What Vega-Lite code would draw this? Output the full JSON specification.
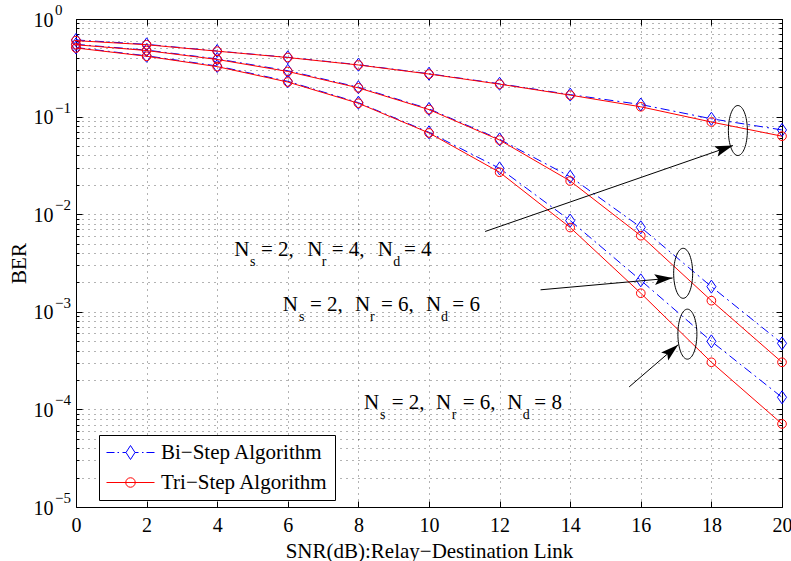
{
  "$schema": "https://vega.github.io/schema/vega-lite/v6.json",
  "width": 706,
  "height": 488,
  "autosize": {"type": "none"},
  "padding": {"left": 76, "top": 19, "right": 9, "bottom": 54},
  "background": "white",
  "config": {
    "view": {"stroke": null},
    "font": "Liberation Serif",
    "axis": {"labelFont": "Liberation Serif", "titleFont": "Liberation Serif", "labelColor": "black", "titleColor": "black", "titleFontWeight": "normal", "domainColor": "black", "tickColor": "black"}
  },
  "datasets": {
    "curves": [
      {"series": "Bi−Step Algorithm", "cfg": "A", "snr": 0, "ber": 0.61},
      {"series": "Bi−Step Algorithm", "cfg": "A", "snr": 2, "ber": 0.55},
      {"series": "Bi−Step Algorithm", "cfg": "A", "snr": 4, "ber": 0.47},
      {"series": "Bi−Step Algorithm", "cfg": "A", "snr": 6, "ber": 0.405},
      {"series": "Bi−Step Algorithm", "cfg": "A", "snr": 8, "ber": 0.34},
      {"series": "Bi−Step Algorithm", "cfg": "A", "snr": 10, "ber": 0.275},
      {"series": "Bi−Step Algorithm", "cfg": "A", "snr": 12, "ber": 0.217},
      {"series": "Bi−Step Algorithm", "cfg": "A", "snr": 14, "ber": 0.168},
      {"series": "Bi−Step Algorithm", "cfg": "A", "snr": 16, "ber": 0.133},
      {"series": "Bi−Step Algorithm", "cfg": "A", "snr": 18, "ber": 0.095},
      {"series": "Bi−Step Algorithm", "cfg": "A", "snr": 20, "ber": 0.073},
      {"series": "Bi−Step Algorithm", "cfg": "B", "snr": 0, "ber": 0.55},
      {"series": "Bi−Step Algorithm", "cfg": "B", "snr": 2, "ber": 0.48},
      {"series": "Bi−Step Algorithm", "cfg": "B", "snr": 4, "ber": 0.39},
      {"series": "Bi−Step Algorithm", "cfg": "B", "snr": 6, "ber": 0.295},
      {"series": "Bi−Step Algorithm", "cfg": "B", "snr": 8, "ber": 0.2},
      {"series": "Bi−Step Algorithm", "cfg": "B", "snr": 10, "ber": 0.12},
      {"series": "Bi−Step Algorithm", "cfg": "B", "snr": 12, "ber": 0.0585},
      {"series": "Bi−Step Algorithm", "cfg": "B", "snr": 14, "ber": 0.0242},
      {"series": "Bi−Step Algorithm", "cfg": "B", "snr": 16, "ber": 0.00734},
      {"series": "Bi−Step Algorithm", "cfg": "B", "snr": 18, "ber": 0.00181},
      {"series": "Bi−Step Algorithm", "cfg": "B", "snr": 20, "ber": 0.000475},
      {"series": "Bi−Step Algorithm", "cfg": "C", "snr": 0, "ber": 0.51},
      {"series": "Bi−Step Algorithm", "cfg": "C", "snr": 2, "ber": 0.42},
      {"series": "Bi−Step Algorithm", "cfg": "C", "snr": 4, "ber": 0.33},
      {"series": "Bi−Step Algorithm", "cfg": "C", "snr": 6, "ber": 0.23},
      {"series": "Bi−Step Algorithm", "cfg": "C", "snr": 8, "ber": 0.139},
      {"series": "Bi−Step Algorithm", "cfg": "C", "snr": 10, "ber": 0.069},
      {"series": "Bi−Step Algorithm", "cfg": "C", "snr": 12, "ber": 0.0295},
      {"series": "Bi−Step Algorithm", "cfg": "C", "snr": 14, "ber": 0.0086},
      {"series": "Bi−Step Algorithm", "cfg": "C", "snr": 16, "ber": 0.0021},
      {"series": "Bi−Step Algorithm", "cfg": "C", "snr": 18, "ber": 0.000498},
      {"series": "Bi−Step Algorithm", "cfg": "C", "snr": 20, "ber": 0.000133},
      {"series": "Tri−Step Algorithm", "cfg": "A", "snr": 0, "ber": 0.6},
      {"series": "Tri−Step Algorithm", "cfg": "A", "snr": 2, "ber": 0.545},
      {"series": "Tri−Step Algorithm", "cfg": "A", "snr": 4, "ber": 0.468},
      {"series": "Tri−Step Algorithm", "cfg": "A", "snr": 6, "ber": 0.403},
      {"series": "Tri−Step Algorithm", "cfg": "A", "snr": 8, "ber": 0.338},
      {"series": "Tri−Step Algorithm", "cfg": "A", "snr": 10, "ber": 0.273},
      {"series": "Tri−Step Algorithm", "cfg": "A", "snr": 12, "ber": 0.215},
      {"series": "Tri−Step Algorithm", "cfg": "A", "snr": 14, "ber": 0.166},
      {"series": "Tri−Step Algorithm", "cfg": "A", "snr": 16, "ber": 0.126},
      {"series": "Tri−Step Algorithm", "cfg": "A", "snr": 18, "ber": 0.088},
      {"series": "Tri−Step Algorithm", "cfg": "A", "snr": 20, "ber": 0.063},
      {"series": "Tri−Step Algorithm", "cfg": "B", "snr": 0, "ber": 0.545},
      {"series": "Tri−Step Algorithm", "cfg": "B", "snr": 2, "ber": 0.475},
      {"series": "Tri−Step Algorithm", "cfg": "B", "snr": 4, "ber": 0.385},
      {"series": "Tri−Step Algorithm", "cfg": "B", "snr": 6, "ber": 0.29},
      {"series": "Tri−Step Algorithm", "cfg": "B", "snr": 8, "ber": 0.197},
      {"series": "Tri−Step Algorithm", "cfg": "B", "snr": 10, "ber": 0.118},
      {"series": "Tri−Step Algorithm", "cfg": "B", "snr": 12, "ber": 0.0575},
      {"series": "Tri−Step Algorithm", "cfg": "B", "snr": 14, "ber": 0.0219},
      {"series": "Tri−Step Algorithm", "cfg": "B", "snr": 16, "ber": 0.00602},
      {"series": "Tri−Step Algorithm", "cfg": "B", "snr": 18, "ber": 0.0013},
      {"series": "Tri−Step Algorithm", "cfg": "B", "snr": 20, "ber": 0.000304},
      {"series": "Tri−Step Algorithm", "cfg": "C", "snr": 0, "ber": 0.505},
      {"series": "Tri−Step Algorithm", "cfg": "C", "snr": 2, "ber": 0.415},
      {"series": "Tri−Step Algorithm", "cfg": "C", "snr": 4, "ber": 0.325},
      {"series": "Tri−Step Algorithm", "cfg": "C", "snr": 6, "ber": 0.226},
      {"series": "Tri−Step Algorithm", "cfg": "C", "snr": 8, "ber": 0.137},
      {"series": "Tri−Step Algorithm", "cfg": "C", "snr": 10, "ber": 0.068},
      {"series": "Tri−Step Algorithm", "cfg": "C", "snr": 12, "ber": 0.0269},
      {"series": "Tri−Step Algorithm", "cfg": "C", "snr": 14, "ber": 0.0073},
      {"series": "Tri−Step Algorithm", "cfg": "C", "snr": 16, "ber": 0.00155},
      {"series": "Tri−Step Algorithm", "cfg": "C", "snr": 18, "ber": 0.000304},
      {"series": "Tri−Step Algorithm", "cfg": "C", "snr": 20, "ber": 0.000071}
    ],
    "ellipses": [
      {"snr": 18.75, "ber": 0.072},
      {"snr": 17.2, "ber": 0.00248},
      {"snr": 17.32, "ber": 0.00059}
    ],
    "arrows": [
      {"id": 1, "snr0": 11.59, "ber0": 0.00665, "snr": 18.61, "ber": 0.0505},
      {"id": 2, "snr0": 13.16, "ber0": 0.00168, "snr": 16.9, "ber": 0.00222},
      {"id": 3, "snr0": 15.67, "ber0": 0.00017, "snr": 17.06, "ber": 0.00046}
    ],
    "ann_main": [
      {"t": "N", "snr": 4.484, "ber": 0.00369},
      {"t": "= 2,", "snr": 5.241, "ber": 0.00369},
      {"t": "N", "snr": 6.552, "ber": 0.00369},
      {"t": "= 4,", "snr": 7.244, "ber": 0.00369},
      {"t": "N", "snr": 8.547, "ber": 0.00369},
      {"t": "= 4", "snr": 9.292, "ber": 0.00369},
      {"t": "N", "snr": 5.856, "ber": 0.001026},
      {"t": "= 2,", "snr": 6.629, "ber": 0.001026},
      {"t": "N", "snr": 7.904, "ber": 0.001026},
      {"t": "= 6,", "snr": 8.64, "ber": 0.001026},
      {"t": "N", "snr": 9.915, "ber": 0.001026},
      {"t": "= 6", "snr": 10.66, "ber": 0.001026},
      {"t": "N", "snr": 8.159, "ber": 0.0001019},
      {"t": "= 2,", "snr": 8.943, "ber": 0.0001019},
      {"t": "N", "snr": 10.198, "ber": 0.0001019},
      {"t": "= 6,", "snr": 10.955, "ber": 0.0001019},
      {"t": "N", "snr": 12.218, "ber": 0.0001019},
      {"t": "= 8", "snr": 12.983, "ber": 0.0001019}
    ],
    "ann_sub": [
      {"t": "s", "snr": 4.929, "ber": 0.00369},
      {"t": "r", "snr": 6.96, "ber": 0.00369},
      {"t": "d", "snr": 8.989, "ber": 0.00369},
      {"t": "s", "snr": 6.317, "ber": 0.001026},
      {"t": "r", "snr": 8.329, "ber": 0.001026},
      {"t": "d", "snr": 10.34, "ber": 0.001026},
      {"t": "s", "snr": 8.612, "ber": 0.0001019},
      {"t": "r", "snr": 10.643, "ber": 0.0001019},
      {"t": "d", "snr": 12.654, "ber": 0.0001019}
    ],
    "exps": [
      {"ber": 1, "e": "0"},
      {"ber": 0.1, "e": "−1"},
      {"ber": 0.01, "e": "−2"},
      {"ber": 0.001, "e": "−3"},
      {"ber": 0.0001, "e": "−4"},
      {"ber": 0.00001, "e": "−5"}
    ]
  },
  "layer": [
    {
      "data": {"name": "curves"},
      "transform": [{"filter": "datum.series == 'Bi−Step Algorithm'"}],
      "mark": {"type": "line", "strokeWidth": 1, "strokeDash": [9, 4, 2, 4]},
      "encoding": {
        "x": {"field": "snr", "type": "quantitative",
          "scale": {"domain": [0, 20], "nice": false, "zero": false},
          "axis": {"orient": "bottom", "values": [0, 2, 4, 6, 8, 10, 12, 14, 16, 18, 20], "grid": true, "gridDash": [1, 5], "gridColor": "#000", "gridOpacity": 0.6,
            "tickSize": -6, "labelPadding": 30, "labelBaseline": "alphabetic", "labelFontSize": 20, "labelFlush": false,
            "title": "SNR(dB):Relay−Destination Link", "titleFontSize": 21, "titleX": 353, "titleY": 50, "titleBaseline": "alphabetic", "titleAlign": "center"}},
        "y": {"field": "ber", "type": "quantitative",
          "scale": {"type": "log", "domain": [0.00001, 1], "nice": false},
          "axis": {"orient": "left",
            "values": [0.00001, 0.00002, 0.00003, 0.00004, 0.00005, 0.00006, 0.00007, 0.00008, 0.00009, 0.0001, 0.0002, 0.0003, 0.0004, 0.0005, 0.0006, 0.0007, 0.0008, 0.0009, 0.001, 0.002, 0.003, 0.004, 0.005, 0.006, 0.007, 0.008, 0.009, 0.01, 0.02, 0.03, 0.04, 0.05, 0.06, 0.07, 0.08, 0.09, 0.1, 0.2, 0.3, 0.4, 0.5, 0.6, 0.7, 0.8, 0.9, 1],
            "labelExpr": "abs(log(datum.value)/LN10 - round(log(datum.value)/LN10)) < 0.001 ? '10' : ''",
            "labelOverlap": false, "labelFontSize": 20, "labelPadding": 29, "labelBaseline": "alphabetic", "labelOffset": 7, "labelFlush": false,
            "tickSize": {"condition": {"test": "abs(log(datum.value)/LN10 - round(log(datum.value)/LN10)) < 0.001", "value": -6}, "value": -3},
            "grid": true, "gridDash": [1, 5], "gridColor": "#000", "gridOpacity": 0.6,
            "title": "BER", "titleFontSize": 21, "titleX": -51, "titleY": 244, "titleBaseline": "alphabetic", "titleAlign": "center", "titleAngle": 270}},
        "color": {"field": "series", "type": "nominal",
          "scale": {"domain": ["Bi−Step Algorithm", "Tri−Step Algorithm"], "range": ["#0000ff", "#ff0000"]},
          "legend": {"orient": "none", "legendX": 23, "legendY": 416, "title": null, "fillColor": "white", "strokeColor": "black", "padding": 7,
            "labelFont": "Liberation Serif", "labelFontSize": 21, "labelColor": "black", "labelLimit": 400, "symbolSize": 400, "symbolOffset": 14, "labelOffset": 20, "rowPadding": 8,
            "encode": {"symbols": {"update": {
              "shape": {"signal": "datum.value === 'Bi−Step Algorithm' ? 'M-2.4,0L-1.6,0M-1.3,0L-1.15,0M-0.8,0L-0.45,0M0.45,0L0.8,0M1.15,0L1.3,0M1.6,0L2.4,0M0,-0.7L0.45,0L0,0.7L-0.45,0Z' : 'M-2.4,0L2.4,0M0.475,0A0.475,0.475 0 1,1 -0.475,0A0.475,0.475 0 1,1 0.475,0Z'"},
              "fill": {"value": "transparent"},
              "strokeDash": {"value": []},
              "strokeWidth": {"value": 1}}}}}},
        "detail": {"field": "cfg"}
      }
    },
    {
      "data": {"name": "curves"},
      "transform": [{"filter": "datum.series == 'Bi−Step Algorithm'"}],
      "mark": {"type": "point", "shape": "M0,-1L0.7,0L0,1L-0.7,0Z", "size": 169, "filled": false, "strokeWidth": 1, "opacity": 1},
      "encoding": {
        "x": {"field": "snr", "type": "quantitative", "axis": null},
        "y": {"field": "ber", "type": "quantitative", "axis": null},
        "color": {"field": "series", "type": "nominal"}
      }
    },
    {
      "data": {"name": "curves"},
      "transform": [{"filter": "datum.series == 'Tri−Step Algorithm'"}],
      "mark": {"type": "line", "strokeWidth": 1},
      "encoding": {
        "x": {"field": "snr", "type": "quantitative", "axis": null},
        "y": {"field": "ber", "type": "quantitative", "axis": null},
        "color": {"field": "series", "type": "nominal"},
        "detail": {"field": "cfg"}
      }
    },
    {
      "data": {"name": "curves"},
      "transform": [{"filter": "datum.series == 'Tri−Step Algorithm'"}],
      "mark": {"type": "point", "shape": "circle", "size": 75, "filled": false, "strokeWidth": 1, "opacity": 1},
      "encoding": {
        "x": {"field": "snr", "type": "quantitative", "axis": null},
        "y": {"field": "ber", "type": "quantitative", "axis": null},
        "color": {"field": "series", "type": "nominal"}
      }
    },
    {
      "data": {"name": "ellipses"},
      "mark": {"type": "point", "shape": "M0,-1A0.38,1 0 1,1 0,1A0.38,1 0 1,1 0,-1Z", "size": 2500, "filled": false, "stroke": "black", "strokeWidth": 1, "opacity": 1},
      "encoding": {
        "x": {"field": "snr", "type": "quantitative",
          "axis": {"orient": "top", "values": [0, 2, 4, 6, 8, 10, 12, 14, 16, 18, 20], "labels": false, "grid": false, "tickSize": -6, "title": null}},
        "y": {"field": "ber", "type": "quantitative",
          "axis": {"orient": "right",
            "values": [0.00001, 0.00002, 0.00003, 0.00004, 0.00005, 0.00006, 0.00007, 0.00008, 0.00009, 0.0001, 0.0002, 0.0003, 0.0004, 0.0005, 0.0006, 0.0007, 0.0008, 0.0009, 0.001, 0.002, 0.003, 0.004, 0.005, 0.006, 0.007, 0.008, 0.009, 0.01, 0.02, 0.03, 0.04, 0.05, 0.06, 0.07, 0.08, 0.09, 0.1, 0.2, 0.3, 0.4, 0.5, 0.6, 0.7, 0.8, 0.9, 1],
            "labels": false, "grid": false, "title": null,
            "tickSize": {"condition": {"test": "abs(log(datum.value)/LN10 - round(log(datum.value)/LN10)) < 0.001", "value": -6}, "value": -3}}}
      }
    },
    {
      "data": {"name": "arrows"},
      "mark": {"type": "rule", "color": "black", "strokeWidth": 1},
      "encoding": {
        "x": {"field": "snr0", "type": "quantitative", "axis": null},
        "y": {"field": "ber0", "type": "quantitative", "axis": null},
        "x2": {"field": "snr"},
        "y2": {"field": "ber"}
      }
    },
    {
      "data": {"name": "arrows"},
      "mark": {"type": "point", "shape": "M0,0L-1,-0.3L-0.8,0L-1,0.3Z", "size": 1296, "filled": true, "color": "black", "opacity": 1,
        "angle": {"expr": "datum.id == 1 ? -19 : datum.id == 2 ? -5 : -41"}},
      "encoding": {
        "x": {"field": "snr", "type": "quantitative", "axis": null},
        "y": {"field": "ber", "type": "quantitative", "axis": null}
      }
    },
    {
      "data": {"name": "ann_main"},
      "mark": {"type": "text", "align": "left", "baseline": "alphabetic", "fontSize": 21, "font": "Liberation Serif", "color": "black"},
      "encoding": {
        "x": {"field": "snr", "type": "quantitative", "axis": null},
        "y": {"field": "ber", "type": "quantitative", "axis": null},
        "text": {"field": "t"}
      }
    },
    {
      "data": {"name": "ann_sub"},
      "mark": {"type": "text", "align": "left", "baseline": "alphabetic", "fontSize": 14, "font": "Liberation Serif", "color": "black", "dy": 10},
      "encoding": {
        "x": {"field": "snr", "type": "quantitative", "axis": null},
        "y": {"field": "ber", "type": "quantitative", "axis": null},
        "text": {"field": "t"}
      }
    },
    {
      "data": {"name": "exps"},
      "mark": {"type": "text", "align": "left", "baseline": "alphabetic", "fontSize": 15, "font": "Liberation Serif", "color": "black", "dx": -21, "dy": -4},
      "encoding": {
        "x": {"datum": 0, "type": "quantitative", "axis": null},
        "y": {"field": "ber", "type": "quantitative", "axis": null},
        "text": {"field": "e"}
      }
    }
  ],
  "resolve": {"axis": {"x": "independent", "y": "independent"}}
}
